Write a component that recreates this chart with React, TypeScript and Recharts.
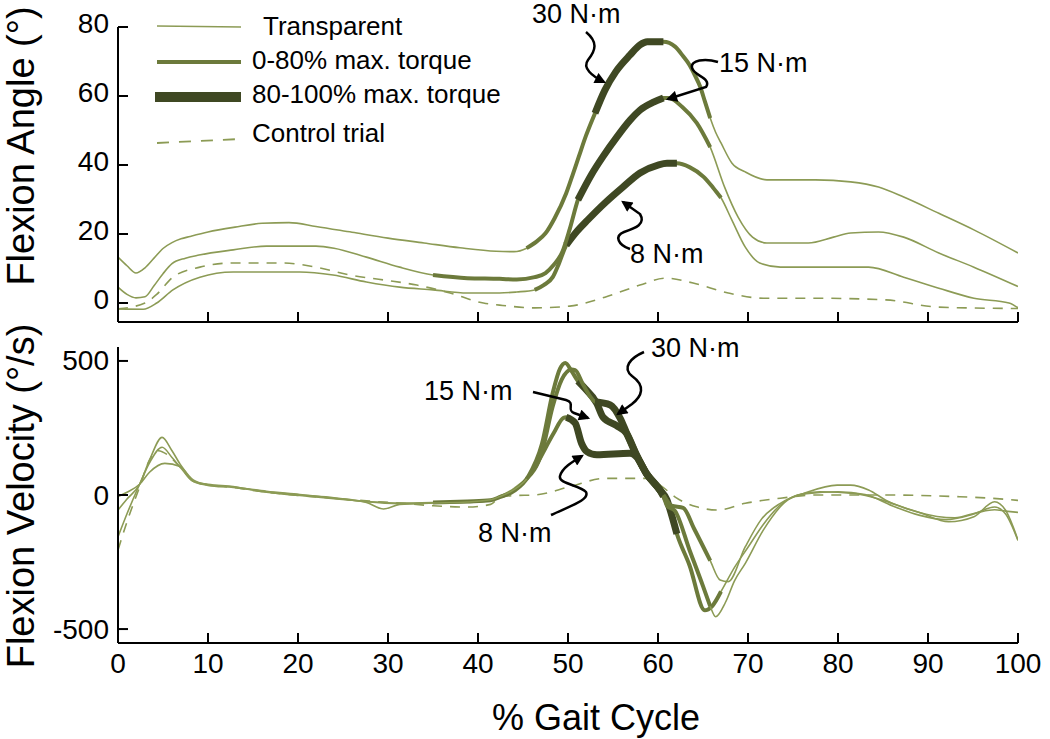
import React from "react";
import { LineChart, Line, XAxis, YAxis } from "recharts";

type Pt = [number, number];

const gaitTicks = [0, 10, 20, 30, 40, 50, 60, 70, 80, 90, 100];
const angleTicks = [0, 20, 40, 60, 80];
const velocityTicks = [-500, 0, 500];

// flexion angle (deg) vs % gait cycle
const angle30: Pt[] = [
  [0, 13.3], [1, 10.8], [2, 8.7], [3, 10.2], [4, 13], [5, 15.8], [6, 17.5], [7, 18.6], [8, 19.3],
  [10, 20.6], [13, 22], [16, 23.1], [19, 23.3], [22, 22.2], [26, 20.5], [30, 18.8], [34, 17.4],
  [38, 16], [42, 15], [44, 14.9], [45.4, 15.9], [46.5, 17.8], [47.5, 20.2], [48.5, 24.5],
  [49.8, 31.8], [50.5, 37], [51.2, 42.4], [52, 48.5], [53, 55], [54.1, 61.7], [55.3, 67],
  [56.9, 71.9], [58, 74.8], [58.8, 75.7], [60.6, 75.7], [61.9, 74.3], [62.8, 71.5], [63.5, 69],
  [64.1, 66], [64.7, 62.6], [65.2, 58.5], [65.8, 53.6], [66.4, 49.5], [67, 46.4], [68.2, 40.6],
  [69.7, 38], [72.1, 35.7], [77.5, 35.7], [81.4, 35.1], [84.5, 33.6], [87.3, 30.7], [91.2, 26],
  [95.1, 21.2], [100, 14.5],
];
const angle15: Pt[] = [
  [0, 4.6], [1, 2.5], [2, 1.5], [3, 1.8], [4, 5], [5, 8.5], [6, 11.4], [7.5, 13], [9, 13.9],
  [12.8, 15.4], [16.5, 16.5], [22, 16.5], [24, 15.9], [27.6, 13.3], [31.3, 10.4], [35, 8.1],
  [38.8, 7.2], [42.4, 7], [44.3, 6.8], [46.3, 7.5], [47.5, 8.7], [48.4, 11], [49.4, 15],
  [50.2, 21.5], [51.1, 29.9], [52.6, 37.2], [53.9, 42.5], [55.4, 48], [56.9, 53], [58, 55.9],
  [59.5, 58.2], [60.6, 59.4], [61.2, 59.4], [62.7, 56.8], [64.3, 52.2], [65.8, 45.2],
  [67.4, 33.6], [68.9, 24.9], [70.5, 19.1], [72.1, 17.4], [76.7, 17.4], [79.5, 19.1],
  [81.4, 20.3], [84.5, 20.6], [87.3, 19.1], [91.2, 14.5], [95.1, 10.4], [100, 4.8],
];
const angle8: Pt[] = [
  [0, -1.7], [2.8, -1.8], [4.3, 0], [6.1, 3.8], [9.1, 7.5], [12.8, 9], [20.2, 9], [23.9, 8.1],
  [27.6, 6.1], [31.3, 4.6], [35, 3.8], [38.8, 2.9], [42.4, 2.9], [44.3, 3.2], [46.3, 3.8],
  [47.3, 5.2], [48.3, 7.5], [49, 11.5], [49.8, 16.8], [51, 20.8], [52.2, 24.1], [54.1, 29],
  [56.1, 33.6], [58, 37.7], [60, 40], [61, 40.5], [62.1, 40.5], [63.5, 39.4], [65.1, 36.5],
  [66.1, 33.5], [67, 30.5], [68.2, 24.1], [69.7, 16.2], [71.3, 11.6], [73.6, 10.4],
  [83.4, 10.4], [87.3, 7.5], [91.2, 4.3], [95.1, 1.4], [99, 0], [100, -1.4],
];
const angleControl: Pt[] = [
  [0, -1.7], [3, 0], [4.3, 2.5], [6.1, 7.5], [9.1, 10.4], [12.8, 11.6], [18.3, 11.6], [22, 10.4],
  [25.8, 8.1], [29.5, 6.7], [33.2, 5.2], [36.9, 2.9], [40.6, 0], [42.4, -0.6], [46.3, -1.4],
  [50.2, -0.9], [54.1, 1.7], [58, 5.2], [60.8, 7.2], [63.9, 5.8], [67.8, 2.9], [71.7, 1.4],
  [77.5, 1.4], [85.3, 0.9], [91.2, -1.2], [100, -1.6],
];

// flexion velocity (deg/s) vs % gait cycle
const vel30: Pt[] = [
  [0, -56], [1, -15], [2.4, 40], [3.5, 130], [4.9, 215], [6, 165], [7, 110], [8.4, 55], [10, 38],
  [12.8, 30], [16.5, 14], [20.2, 2], [24, -12], [27.6, -28], [29.5, -52], [31.3, -35], [35, -30],
  [38.8, -26], [41.4, -18], [42.4, -6], [44, 20], [45.4, 60], [47.1, 160], [48.3, 330],
  [49.3, 430], [50.4, 468], [50.8, 466], [51.7, 410], [53, 348], [54.7, 336], [55.8, 286],
  [56.5, 232], [57.6, 150], [58.7, 81], [60.2, 19], [60.6, 0], [61.5, -40], [62.8, -48],
  [64, -125], [65.8, -245], [66.9, -317], [67.8, -323], [69.7, -193], [71.5, -90], [73.6, -31],
  [76.3, 7], [79.9, 37], [81.4, 37], [83.4, 19], [85.3, -19], [89.2, -67], [92.3, -100],
  [95.1, -81], [97.4, -25], [98.6, -56], [100, -168],
];
const vel15: Pt[] = [
  [0, -156], [1, -70], [2.4, 40], [3.5, 120], [4.9, 178], [6, 140], [7, 100], [8.4, 50], [10, 40],
  [12.8, 32], [16.5, 10], [20.2, -2], [24, -14], [27.6, -24], [31.3, -30], [35, -28], [38.8, -24],
  [41.4, -20], [42.4, -8], [44, 15], [45.6, 70], [47.1, 190], [48.3, 380], [49.1, 470],
  [49.7, 492], [50.4, 462], [51.1, 425], [51.7, 404], [53.2, 342], [53.9, 290], [55.4, 259],
  [56.5, 230], [57.6, 150], [58.7, 81], [60.2, 19], [60.6, -5], [61, -40], [61.9, -60],
  [63.5, -205], [65, -340], [65.8, -415], [66.4, -454], [67.5, -400], [68.5, -320], [69.7, -255],
  [71.7, -131], [74.4, -19], [76.5, 5], [80, 12], [83, 2], [86, -40], [89, -75], [92, -92],
  [95, -72], [97.4, -45], [98.6, -70], [100, -170],
];
const vel8: Pt[] = [
  [0, -6], [1, 10], [2.4, 40], [3.5, 85], [5.2, 118], [6.9, 106], [8.4, 50], [10, 36], [12.8, 28],
  [16.5, 12], [20.2, 0], [24, -10], [27.6, -25], [31.3, -32], [35, -30], [38.8, -28], [41.4, -20],
  [42.4, -5], [44, 25], [46.3, 100], [47.1, 150], [48.4, 230], [49.5, 288], [49.8, 290],
  [50.8, 268], [51.5, 193], [52.1, 162], [53.2, 150], [56.9, 156], [57.6, 143], [58.7, 81],
  [60.2, 19], [61, -19], [61.3, -50], [62.1, -145], [63.5, -262], [65.2, -430], [66, -415],
  [67, -360], [68.5, -270], [70, -195], [71.7, -110], [73.5, -40], [75.5, 0], [78, 12], [82, 5],
  [85, -20], [88, -55], [91, -80], [93, -85], [95.5, -65], [97.4, -55], [98.6, -60], [100, -65],
];
const velControl: Pt[] = [
  [0, -205], [1, -100], [2.4, 30], [3.5, 130], [4.5, 165], [5.5, 150], [7, 100], [8.4, 50],
  [10, 38], [12.8, 28], [16.5, 10], [20.2, -2], [24, -12], [27.6, -22], [31.3, -30], [35, -40],
  [38.8, -45], [41.4, -35], [42.4, -10], [44, -2], [46.3, 0], [50.2, 31], [54.1, 62], [58.8, 62],
  [60.5, 30], [62, -10], [64.3, -44], [66.6, -56], [69.7, -31], [73.6, -12], [77.5, 0],
  [85.3, 0], [93.1, -6], [97, -12], [100, -20],
];

// % gait cycle spans where torque is 0-80% (medium) and 80-100% (thick) of max
const medium30 = [45.4, 65.8];
const thick30 = [53, 60.6];
const medium15 = [35, 65.8];
const thick15 = [51.1, 60.6];
const medium8 = [46.3, 67];
const thick8 = [49.8, 62.1];

const THIN = "#8c9b55";
const MEDIUM = "#6c7a3b";
const THICK = "#3f4823";
const FONT = "'Liberation Sans', Arial, Helvetica, sans-serif";

const rows = (pts: Pt[]) => pts.map(([x, y]) => ({ x, y }));
const pick = (pts: Pt[], span: number[]) =>
  rows(pts.filter(([x]) => x >= span[0] && x <= span[1]));

const torqueLines = (id: string, pts: Pt[], medium: number[], thick: number[]) => [
  <Line key={id + "-thin"} data={rows(pts)} dataKey="y" type="monotone" dot={false}
    stroke={THIN} strokeWidth={1.6} isAnimationActive={false} />,
  <Line key={id + "-med"} data={pick(pts, medium)} dataKey="y" type="monotone" dot={false}
    stroke={MEDIUM} strokeWidth={4} strokeLinejoin="round" isAnimationActive={false} />,
  <Line key={id + "-thick"} data={pick(pts, thick)} dataKey="y" type="monotone" dot={false}
    stroke={THICK} strokeWidth={7} strokeLinejoin="round" isAnimationActive={false} />,
];

const controlLine = (pts: Pt[]) => (
  <Line data={rows(pts)} dataKey="y" type="monotone" dot={false} stroke={THIN}
    strokeWidth={1.6} strokeDasharray="10 8" isAnimationActive={false} />
);

const GaitTick = (props: any) => {
  const { x, y, payload, showLabel } = props;
  return (
    <g>
      <line x1={x} x2={x} y1={y} y2={y - 10} stroke="#000" strokeWidth={2} />
      {showLabel && (
        <text x={x} y={y + 30} textAnchor="middle" fontSize={28} fontFamily={FONT} fill="#000">
          {payload.value}
        </text>
      )}
    </g>
  );
};

const ValueTick = (props: any) => {
  const { x, y, payload, shift } = props;
  return (
    <g>
      <line x1={x} x2={x + 10} y1={y} y2={y} stroke="#000" strokeWidth={2} />
      <text x={x - 9} y={y + shift} textAnchor="end" dominantBaseline="central" fontSize={28}
        fontFamily={FONT} fill="#000">
        {payload.value}
      </text>
    </g>
  );
};

const axisLine = { stroke: "#000", strokeWidth: 2 };

export default function App() {
  return (
    <div style={{ position: "absolute", left: 0, top: 0, width: 1050, height: 739, background: "#fff" }}>
      {/* Flexion angle panel */}
      <div style={{ position: "absolute", left: 0, top: 0 }}>
        <LineChart width={1050} height={330} margin={{ top: 27, right: 32, bottom: 0, left: 0 }}>
          <XAxis dataKey="x" type="number" domain={[0, 100]} ticks={gaitTicks} interval={0}
            allowDataOverflow height={8} tickSize={0} tickMargin={0} tickLine={false}
            axisLine={axisLine} tick={(p: any) => <GaitTick {...p} showLabel={false} />} />
          <YAxis type="number" domain={[-5.5, 80]} ticks={angleTicks} interval={0} allowDataOverflow
            width={118} tickSize={0} tickMargin={0} tickLine={false} axisLine={axisLine}
            tick={(p: any) => <ValueTick {...p} shift={-4} />} />
          {controlLine(angleControl)}
          {torqueLines("a8", angle8, medium8, thick8)}
          {torqueLines("a15", angle15, medium15, thick15)}
          {torqueLines("a30", angle30, medium30, thick30)}
        </LineChart>
      </div>

      {/* Flexion velocity panel */}
      <div style={{ position: "absolute", left: 0, top: 330 }}>
        <LineChart width={1050} height={409} margin={{ top: 17, right: 32, bottom: 0, left: 0 }}>
          <XAxis dataKey="x" type="number" domain={[0, 100]} ticks={gaitTicks} interval={0}
            allowDataOverflow height={96} tickSize={0} tickMargin={0} tickLine={false}
            axisLine={axisLine} tick={(p: any) => <GaitTick {...p} showLabel />} />
          <YAxis type="number" domain={[-552, 552]} ticks={velocityTicks} interval={0} allowDataOverflow
            width={118} tickSize={0} tickMargin={0} tickLine={false} axisLine={axisLine}
            tick={(p: any) => <ValueTick {...p} shift={0} />} />
          {controlLine(velControl)}
          {torqueLines("v8", vel8, medium8, thick8)}
          {torqueLines("v15", vel15, medium15, thick15)}
          {torqueLines("v30", vel30, medium30, thick30)}
        </LineChart>
      </div>

      {/* titles, legend and annotations */}
      <svg width={1050} height={739} style={{ position: "absolute", left: 0, top: 0, pointerEvents: "none" }}
        fontFamily={FONT}>
        <defs>
          <marker id="head" viewBox="0 0 10 10" refX="8" refY="5" markerWidth="5" markerHeight="4.5"
            orient="auto">
            <path d="M0,0 L10,5 L0,10 z" fill="#000" />
          </marker>
        </defs>

        <text transform="translate(34,146) rotate(-90)" textAnchor="middle" fontSize={38} fill="#000">
          Flexion Angle (°)
        </text>
        <text transform="translate(34,496) rotate(-90)" textAnchor="middle" fontSize={38} fill="#000">
          Flexion Velocity (°/s)
        </text>
        <text x={596} y={730} textAnchor="middle" fontSize={36} fill="#000">% Gait Cycle</text>

        {/* legend */}
        <line x1={157} x2={241} y1={26} y2={27} stroke={THIN} strokeWidth={1.6} />
        <line x1={157} x2={241} y1={62} y2={62} stroke={MEDIUM} strokeWidth={4} />
        <line x1={155} x2={241} y1={97} y2={97} stroke={THICK} strokeWidth={10} />
        <line x1={157} x2={240} y1={143} y2={139} stroke={THIN} strokeWidth={1.8} strokeDasharray="12 10" />
        <text x={263} y={35} fontSize={26} fill="#000">Transparent</text>
        <text x={252} y={69} fontSize={26} fill="#000">0-80% max. torque</text>
        <text x={252} y={103} fontSize={26} fill="#000">80-100% max. torque</text>
        <text x={252} y={142} fontSize={26} fill="#000">Control trial</text>

        {/* annotations */}
        <g fill="none" stroke="#000" strokeWidth={2.5} markerEnd="url(#head)">
          <path d="M586,32 C598,42 596,50 588,60 C582,68 592,76 604,82" />
          <path d="M718,62 C705,58 690,60 692,68 C694,76 712,78 706,87 L668,99" />
          <path d="M630,249 C618,245 614,236 624,232 C636,228 646,224 640,214 L623,202" />
          <path d="M644,352 C630,358 622,368 632,376 C646,386 642,396 632,404 L618,414" />
          <path d="M533,392 L566,400 C576,403 566,410 574,413 L588,418" />
          <path d="M551,515 C570,506 590,500 586,492 C580,485 558,484 560,476 C562,468 572,462 582,456" />
        </g>
        <text x={532} y={23} fontSize={27} fill="#000">30 N·m</text>
        <text x={719} y={72} fontSize={27} fill="#000">15 N·m</text>
        <text x={630} y={263} fontSize={27} fill="#000">8 N·m</text>
        <text x={651} y={357} fontSize={27} fill="#000">30 N·m</text>
        <text x={424} y={400} fontSize={27} fill="#000">15 N·m</text>
        <text x={478} y={542} fontSize={27} fill="#000">8 N·m</text>
      </svg>
    </div>
  );
}
